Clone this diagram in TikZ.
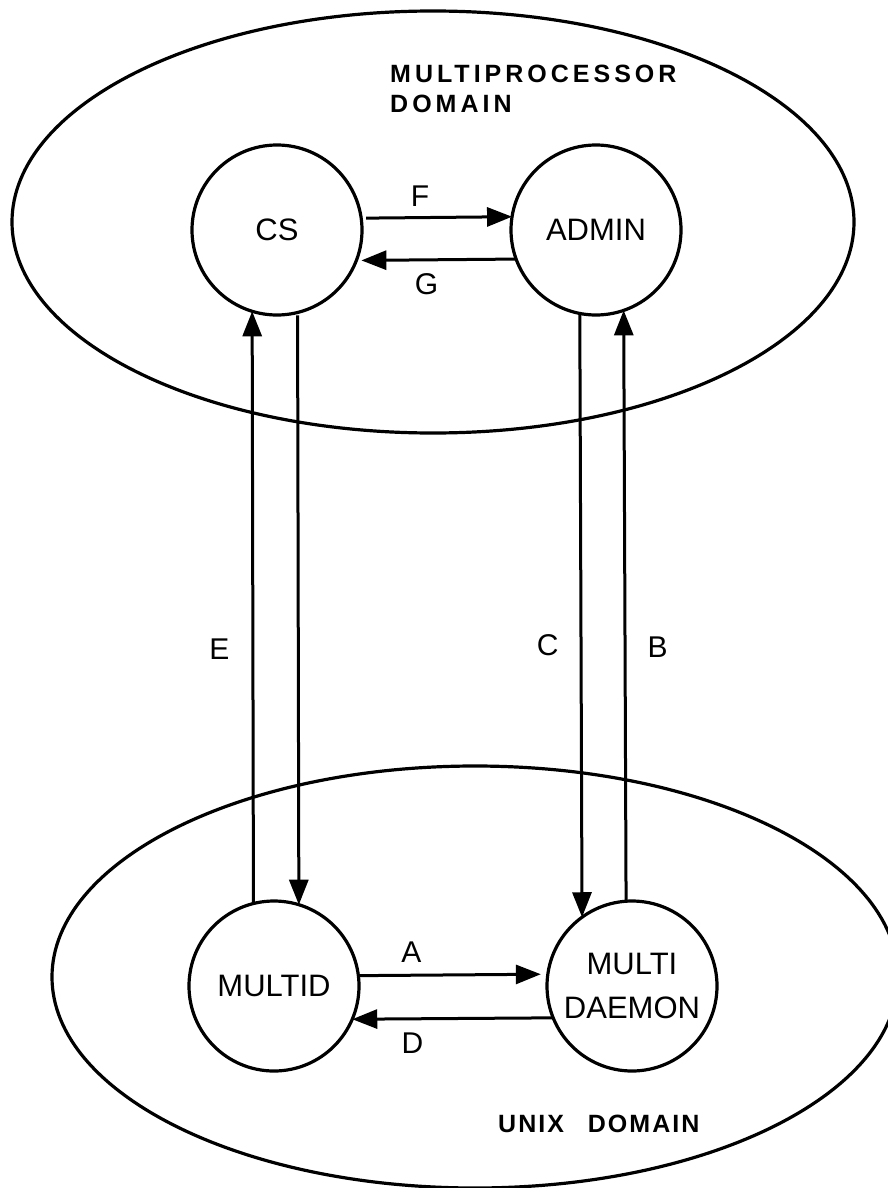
\documentclass[tikz,border=0pt]{standalone}
\usepackage{fontspec}
\setmainfont{Liberation Sans}
\newfontfamily\domainfont[LetterSpace=16]{Liberation Sans}
\newfontfamily\unixfont[LetterSpace=8]{Liberation Sans}
\usetikzlibrary{arrows.meta}

\tikzset{
  proc/.style={draw, circle, line width=3.2pt, minimum size=170pt, inner sep=0pt,
    outer sep=0pt, align=center, font=\fontsize{31}{44}\selectfont},
  msg/.style={-{Triangle[length=25pt,width=19pt]}, line width=3pt},
  lbl/.style={inner sep=0pt, font=\fontsize{30}{32}\selectfont},
  domlbl/.style={inner sep=0pt, anchor=west, align=left,
    font=\domainfont\bfseries\fontsize{25}{30}\selectfont},
}

\begin{document}
\begin{tikzpicture}[x=1pt,y=-1pt]
\useasboundingbox (0,0) rectangle (887,1188);
% the two domains
\draw[line width=3.2pt] (433,222) ellipse [x radius=421pt, y radius=211pt];
\draw[line width=3.2pt] (475,977) ellipse [x radius=423pt, y radius=211pt];
\node[domlbl] (mpdomain) at (390,89) {MULTIPROCESSOR\\DOMAIN};
\node[domlbl, font=\unixfont\bfseries\fontsize{25}{30}\selectfont] (unixdomain)
  at (498,1124) {UNIX\hspace{24pt}DOMAIN};

% processes
\node[proc] (cs) at (277,230) {CS};
\node[proc] (admin) at (596,230) {ADMIN};
\node[proc] (multid) at (274,986) {MULTID};
\node[proc] (daemon) at (632,986) {MULTI\\DAEMON};

% messages inside the domains
\draw[msg, shorten <=5pt] (cs.8.1) -- node[lbl, pos=.39, above=10pt] (lblF) {F} (admin.171.9);
\draw[msg, shorten >=5pt] (admin.200.7) -- node[lbl, pos=.56, below=12pt] (lblG) {G} (cs.339.3);
\draw[msg, shorten >=7pt] (multid.7.4) -- node[lbl, pos=.28, above=11pt] (lblA) {A} (daemon.172.6);
\draw[msg] (daemon.202.1) -- node[lbl, pos=.70, below=13pt] (lblD) {D} (multid.337.9);

% messages between the domains
\draw[msg] (multid.104.3) -- node[lbl, pos=.43, left=22pt] (lblE) {E} (cs.253.6);
\draw[msg, shorten <=3pt] (cs.284.3) -- (multid.73.6);
\draw[msg] (admin.259.8) -- node[lbl, pos=.55, left=21pt] (lblC) {C} (daemon.126.9);
\draw[msg] (daemon.94.7) -- node[lbl, pos=.43, right=21pt] (lblB) {B} (admin.289.9);
\end{tikzpicture}
\end{document}
